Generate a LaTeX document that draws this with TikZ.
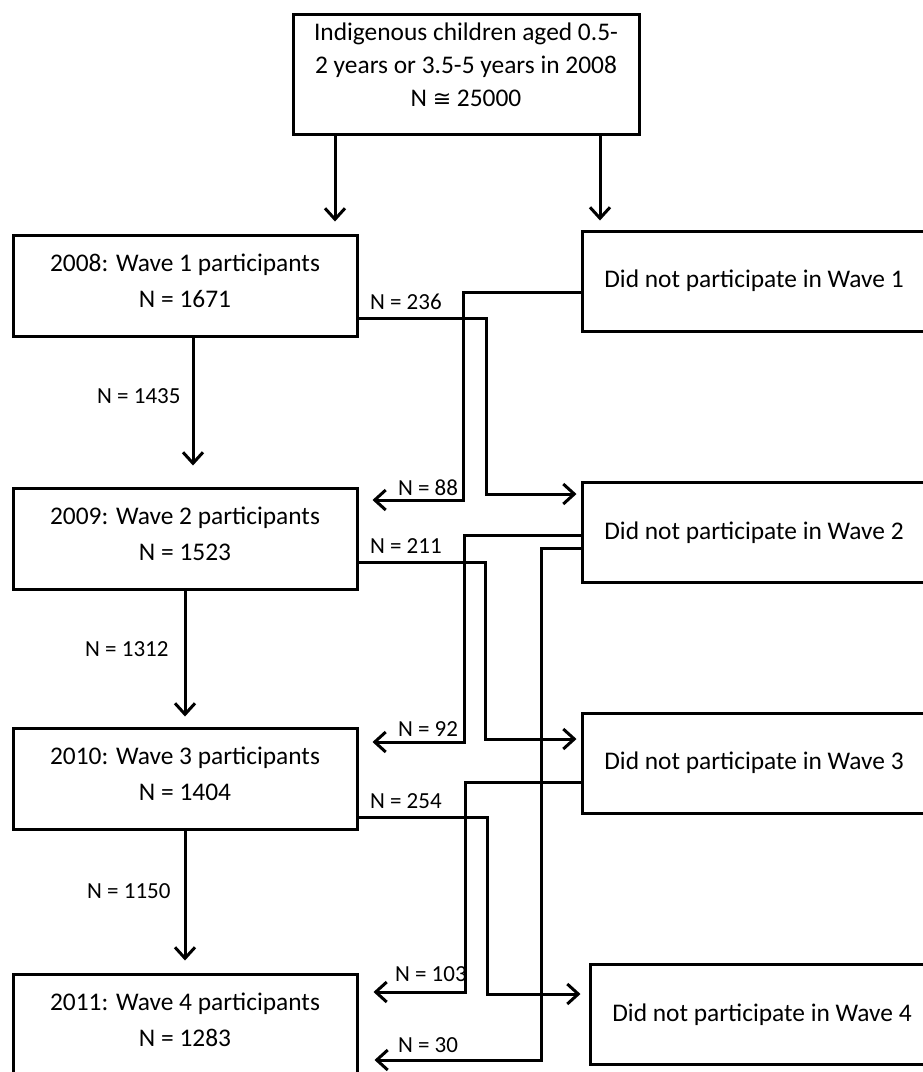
\documentclass[tikz,border=0pt]{standalone}
\usepackage{fontspec}
\setmainfont{Carlito}
\newfontfamily\symfont{DejaVu Sans}
\usetikzlibrary{arrows.meta,positioning}

\begin{document}
\begin{tikzpicture}[x=0.5pt,y=-0.5pt,
  wave/.style={rectangle,draw=black,line width=1.5pt,minimum width=172pt,minimum height=50.5pt,align=center,inner ysep=2pt,text height=27pt,text depth=5.5pt,font=\fontsize{12.7pt}{18pt}\selectfont},
  miss/.style={rectangle,draw=black,line width=1.5pt,minimum width=172pt,minimum height=50pt,font=\fontsize{12.7pt}{18pt}\selectfont},
  flow/.style={-{Straight Barb[length=5.5pt,width=10pt]},line width=1.5pt},
  lbl/.style={inner sep=0pt,font=\fontsize{11.5pt}{14pt}\selectfont}]
\useasboundingbox (0,0) rectangle (922,1072);
% \draw[help lines] (0,0) grid (922,1072);
\node (top) [wave,minimum width=173pt,minimum height=60pt,text height=42pt,text depth=10pt,font=\fontsize{12.7pt}{16.5pt}\selectfont] at (466,74) {Indigenous children aged 0.5-\\2 years or 3.5-5 years in 2008\\N {\symfont\fontsize{11pt}{12pt}\selectfont ≅} 25000};
\node (w1) [wave] at (185,285.5) {2008: Wave 1 participants\\N = 1671};
\node (w2) [wave] at (185,538.5) {2009: Wave 2 participants\\N = 1523};
\node (w3) [wave] at (185,778.5) {2010: Wave 3 participants\\N = 1404};
\node (w4) [wave] at (185,1024.5) {2011: Wave 4 participants\\N = 1283};
\node (r1) [miss] at (754,281) {Did not participate in Wave 1};
\node (r2) [miss] at (754,532.5) {Did not participate in Wave 2};
\node (r3) [miss] at (754,763) {Did not participate in Wave 3};
\node (r4) [miss] at (762,1014.5) {Did not participate in Wave 4};
%
\coordinate (ta) at (335,134);
\coordinate (tb) at (600,134);
\draw[flow,shorten >=6pt] (top.south -| ta) -- (w1.north -| ta);
\draw[flow,shorten >=4.5pt] (top.south -| tb) -- (r1.north -| tb);
%
\draw[flow,shorten >=10.5pt] ([xshift=4pt]w1.south) -- ([xshift=4pt]w2.north) node[lbl,pos=0.39,left=5.5pt] {N = 1435};
\draw[flow,shorten >=5pt] (w2.south) -- (w3.north) node[lbl,pos=0.43,left=7.5pt] {N = 1312};
\draw[flow,shorten >=6pt] (w3.south) -- (w4.north) node[lbl,pos=0.43,left=6.5pt] {N = 1150};
%
\coordinate (a1) at (486,318);
\coordinate (a2) at (486,494);
\draw[flow,shorten >=2pt] (w1.east |- a1) node[lbl,above right=3.5pt and 5pt] {N = 236} -- (a1) -- (a2) -- (a2 -| r2.west);
\coordinate (b1) at (463,292);
\coordinate (b2) at (463,500);
\draw[flow,shorten >=7pt] (r1.west |- b1) -- (b1) -- (b2) -- (b2 -| w2.east) node[lbl,above right=1.5pt and 19pt] {N = 88};
%
\coordinate (c1) at (485,562);
\coordinate (c2) at (485,739);
\draw[flow,shorten >=2pt] (w2.east |- c1) node[lbl,above right=3.5pt and 5pt] {N = 211} -- (c1) -- (c2) -- (c2 -| r3.west);
\coordinate (d1) at (464,535);
\coordinate (d2) at (464,742);
\draw[flow,shorten >=7pt] (r2.west |- d1) -- (d1) -- (d2) -- (d2 -| w3.east) node[lbl,above right=2pt and 19pt] {N = 92};
\coordinate (e1) at (541,548);
\coordinate (e2) at (541,1060);
\draw[flow,shorten >=8pt] (r2.west |- e1) -- (e1) -- (e2) -- (e2 -| w4.east) node[lbl,above right=3pt and 19pt] {N = 30};
%
\coordinate (g1) at (487,817);
\coordinate (g2) at (487,994);
\draw[flow,shorten >=4pt] (w3.east |- g1) node[lbl,above right=3.5pt and 5pt] {N = 254} -- (g1) -- (g2) -- (g2 -| r4.west);
\coordinate (f1) at (465,782);
\coordinate (f2) at (465,992);
\draw[flow,shorten >=7.5pt] (r3.west |- f1) -- (f1) -- (f2) -- (f2 -| w4.east) node[lbl,above right=4.5pt and 17.5pt] {N = 103};
\end{tikzpicture}
\end{document}
